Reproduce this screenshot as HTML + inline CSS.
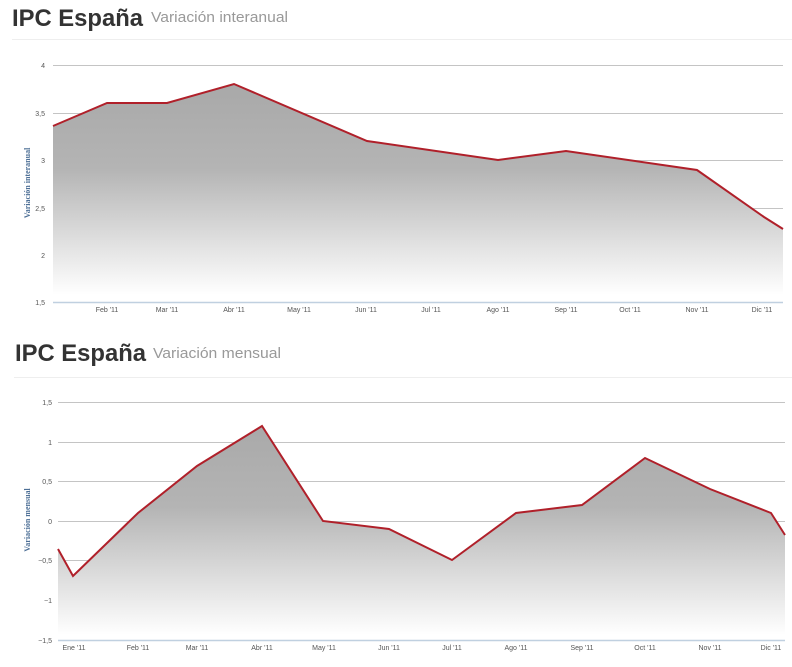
<!DOCTYPE html>
<html><head><meta charset="utf-8"><style>
body{margin:0;background:#fff;width:792px;height:662px;overflow:hidden;font-family:"Liberation Sans",sans-serif}
</style></head><body>
<svg width="792" height="662" viewBox="0 0 792 662" xmlns="http://www.w3.org/2000/svg">
<defs>
<linearGradient id="g1" x1="0" y1="65" x2="0" y2="295" gradientUnits="userSpaceOnUse"><stop offset="0" stop-color="#a6a6a6"/><stop offset="0.45" stop-color="#b4b4b4"/><stop offset="1" stop-color="#fff"/></linearGradient>
<linearGradient id="g2" x1="0" y1="402" x2="0" y2="635" gradientUnits="userSpaceOnUse"><stop offset="0" stop-color="#a6a6a6"/><stop offset="0.45" stop-color="#b4b4b4"/><stop offset="1" stop-color="#fff"/></linearGradient>
</defs>
<text x="12" y="26" font-size="24" font-weight="bold" fill="#333" textLength="131" lengthAdjust="spacingAndGlyphs">IPC España</text>
<text x="151" y="22" font-size="15" fill="#999" textLength="137" lengthAdjust="spacingAndGlyphs">Variación interanual</text>
<line x1="12" y1="39.5" x2="792" y2="39.5" stroke="#eee"/>
<g stroke="#c4c4c4" stroke-width="1">
<line x1="53" y1="65.5" x2="783" y2="65.5"/><line x1="53" y1="113.5" x2="783" y2="113.5"/><line x1="53" y1="160.5" x2="783" y2="160.5"/><line x1="53" y1="208.5" x2="783" y2="208.5"/><line x1="53" y1="255.5" x2="783" y2="255.5"/>
</g>
<polygon points="53,126 107,103 167,103 234,84 367,141 498,160 566,151 697,170 764,217 783,229 783,302 53,302" fill="url(#g1)"/>
<polyline points="53,126 107,103 167,103 234,84 367,141 498,160 566,151 697,170 764,217 783,229" fill="none" stroke="#b0202a" stroke-width="2"/>
<line x1="53" y1="302.5" x2="783" y2="302.5" stroke="#c0d0e0" stroke-width="1.5"/>
<g font-size="7" fill="#555" text-anchor="end">
<text x="45" y="68">4</text><text x="45" y="116">3,5</text><text x="45" y="163">3</text><text x="45" y="211">2,5</text><text x="45" y="258">2</text><text x="45" y="305">1,5</text></g>
<g font-size="7" fill="#555" text-anchor="middle">
<text x="107" y="312">Feb '11</text><text x="167" y="312">Mar '11</text><text x="234" y="312">Abr '11</text><text x="299" y="312">May '11</text><text x="366" y="312">Jun '11</text><text x="431" y="312">Jul '11</text><text x="498" y="312">Ago '11</text><text x="566" y="312">Sep '11</text><text x="630" y="312">Oct '11</text><text x="697" y="312">Nov '11</text><text x="762" y="312">Dic '11</text></g>
<text transform="translate(30,183) rotate(-90)" font-family="Liberation Serif,serif" font-size="8" font-weight="bold" fill="#4d6f96" text-anchor="middle">Variación interanual</text>

<text x="15" y="361" font-size="24" font-weight="bold" fill="#333" textLength="131" lengthAdjust="spacingAndGlyphs">IPC España</text>
<text x="153" y="358" font-size="15" fill="#999" textLength="128" lengthAdjust="spacingAndGlyphs">Variación mensual</text>
<line x1="14" y1="377.5" x2="792" y2="377.5" stroke="#eee"/>
<g stroke="#c4c4c4" stroke-width="1">
<line x1="58" y1="402.5" x2="785" y2="402.5"/><line x1="58" y1="442.5" x2="785" y2="442.5"/><line x1="58" y1="481.5" x2="785" y2="481.5"/><line x1="58" y1="521.5" x2="785" y2="521.5"/><line x1="58" y1="560.5" x2="785" y2="560.5"/><line x1="58" y1="600.5" x2="785" y2="600.5"/>
</g>
<polygon points="58,549 73,576 138,513 197,466 262,426 323,521 389,529 452,560 516,513 582,505 645,458 710,489 771,513 785,535 785,640 58,640" fill="url(#g2)"/>
<polyline points="58,549 73,576 138,513 197,466 262,426 323,521 389,529 452,560 516,513 582,505 645,458 710,489 771,513 785,535" fill="none" stroke="#b0202a" stroke-width="2"/>
<line x1="58" y1="640.5" x2="785" y2="640.5" stroke="#c0d0e0" stroke-width="1.5"/>
<g font-size="7" fill="#555" text-anchor="end">
<text x="52" y="405">1,5</text><text x="52" y="445">1</text><text x="52" y="484">0,5</text><text x="52" y="524">0</text><text x="52" y="563">−0,5</text><text x="52" y="603">−1</text><text x="52" y="643">−1,5</text></g>
<g font-size="7" fill="#555" text-anchor="middle">
<text x="74" y="650">Ene '11</text><text x="138" y="650">Feb '11</text><text x="197" y="650">Mar '11</text><text x="262" y="650">Abr '11</text><text x="324" y="650">May '11</text><text x="389" y="650">Jun '11</text><text x="452" y="650">Jul '11</text><text x="516" y="650">Ago '11</text><text x="582" y="650">Sep '11</text><text x="645" y="650">Oct '11</text><text x="710" y="650">Nov '11</text><text x="771" y="650">Dic '11</text></g>
<text transform="translate(30,520) rotate(-90)" font-family="Liberation Serif,serif" font-size="8" font-weight="bold" fill="#4d6f96" text-anchor="middle">Variación mensual</text>
</svg>
</body></html>
